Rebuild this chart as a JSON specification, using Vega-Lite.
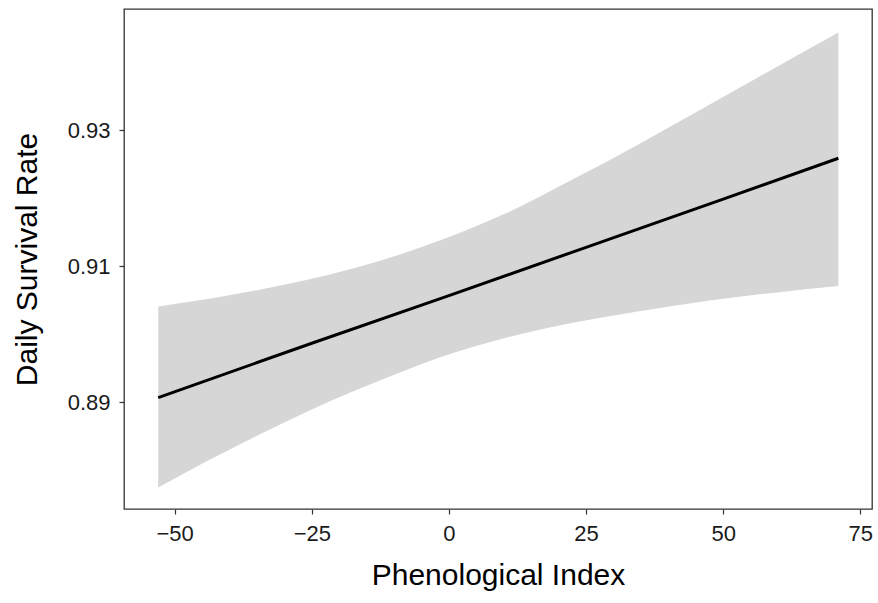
{
  "$schema": "https://vega.github.io/schema/vega-lite/v6.json",
  "width": 748,
  "height": 500,
  "autosize": "none",
  "padding": {"left": 124, "top": 9, "right": 6, "bottom": 94},
  "background": "white",
  "config": {
    "view": {"stroke": "#333333", "strokeWidth": 1.3},
    "axis": {
      "grid": false,
      "domain": false,
      "ticks": true,
      "tickColor": "#333333",
      "tickSize": 5,
      "tickWidth": 1.2,
      "labelFont": "Liberation Sans",
      "labelFontSize": 22,
      "labelColor": "#1a1a1a",
      "titleFont": "Liberation Sans",
      "titleFontSize": 30,
      "titleFontWeight": "normal",
      "titleColor": "#000000"
    }
  },
  "datasets": {
    "band": [
      {"x": -53, "lo": 0.8775, "hi": 0.9041},
      {"x": -44, "lo": 0.8814, "hi": 0.9052},
      {"x": -35, "lo": 0.8851, "hi": 0.9065},
      {"x": -26, "lo": 0.8886, "hi": 0.9080},
      {"x": -17, "lo": 0.8918, "hi": 0.9098},
      {"x": -8, "lo": 0.8947, "hi": 0.9120},
      {"x": -1.7, "lo": 0.8966, "hi": 0.9138},
      {"x": 10.4, "lo": 0.8995, "hi": 0.9178},
      {"x": 22.6, "lo": 0.9017, "hi": 0.9228},
      {"x": 34.7, "lo": 0.9034, "hi": 0.9280},
      {"x": 46.9, "lo": 0.9049, "hi": 0.9335},
      {"x": 59, "lo": 0.9061, "hi": 0.9390},
      {"x": 71, "lo": 0.9071, "hi": 0.9444}
    ],
    "fit": [
      {"x": -53, "y": 0.8907},
      {"x": -25, "y": 0.8987},
      {"x": 0, "y": 0.9057},
      {"x": 25, "y": 0.9128},
      {"x": 50, "y": 0.9199},
      {"x": 71, "y": 0.9259}
    ]
  },
  "layer": [
    {
      "data": {"name": "band"},
      "mark": {"type": "area", "color": "#d6d6d6", "interpolate": "monotone"},
      "encoding": {
        "x": {
          "field": "x", "type": "quantitative",
          "scale": {"domain": [-59.24, 77.13], "nice": false, "zero": false},
          "axis": {"values": [-50, -25, 0, 25, 50, 75], "title": "Phenological Index", "titlePadding": 16, "labelPadding": 9}
        },
        "y": {
          "field": "lo", "type": "quantitative",
          "scale": {"domain": [0.87432, 0.94785], "nice": false, "zero": false},
          "axis": {"values": [0.89, 0.91, 0.93], "format": ".2f", "title": "Daily Survival Rate", "titlePadding": 25, "labelPadding": 9}
        },
        "y2": {"field": "hi"}
      }
    },
    {
      "data": {"name": "fit"},
      "mark": {"type": "line", "color": "#000000", "strokeWidth": 3},
      "encoding": {
        "x": {"field": "x", "type": "quantitative"},
        "y": {"field": "y", "type": "quantitative"}
      }
    }
  ]
}
